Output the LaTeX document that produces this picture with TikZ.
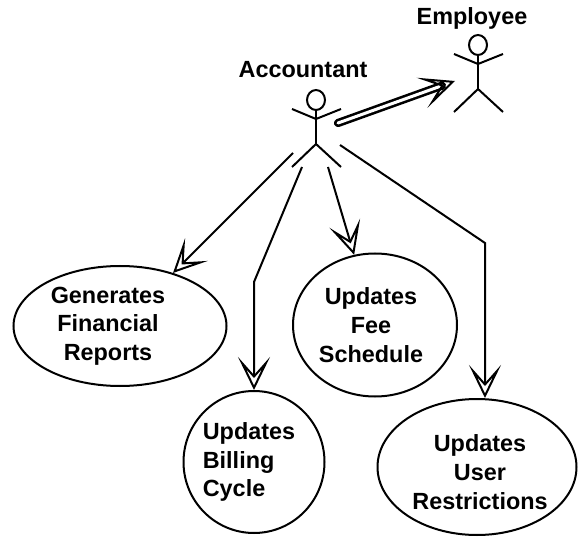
\documentclass[tikz,border=0pt]{standalone}
\usepackage{fontspec}
\setmainfont{Liberation Sans}
\usetikzlibrary{arrows.meta,positioning,shapes.geometric}
\tikzset{
    every picture/.style={
        x=1pt,y=-1pt,line width=2pt,
        >={Stealth[open,length=33pt,width=32pt,inset=18pt]}
    },
    usecase/.style={draw,ellipse,inner sep=0pt},
    casetext/.style={inner sep=0pt,align=center,
        font=\fontsize{23.4}{28.7}\selectfont\bfseries},
    actorname/.style={inner sep=0pt,font=\fontsize{23.4}{27}\selectfont\bfseries},
    actorhead/.style={draw,ellipse,minimum width=18pt,minimum height=20pt,inner sep=0pt},
    pics/actor/.style={code={
        \node[actorhead] (-head) at (0,0) {};
        \coordinate (-neck) at (0,19);
        \coordinate (-hip) at (0,44);
        \draw (-head) -- (-hip);
        \draw (-24,9) -- (-neck) -- (25,9);
        \draw (-24,67) -- (-hip) -- (25,67);
    }}
}
\begin{document}
\begin{tikzpicture}
    \useasboundingbox (0,0) rectangle (578,537);
    \pic (acc) at (316,100) {actor};
    \pic (emp) at (478,45) {actor};
    \node[actorname] (accname) [above=10pt of acc-head,xshift=-13pt] {Accountant};
    \node[actorname] (empname) [above=4pt of emp-head,xshift=-6pt] {Employee};

    \node[usecase,minimum width=213pt,minimum height=120pt] (report) at (120,326) {};
    \node[usecase,minimum width=164pt,minimum height=143pt] (fee) at (375,325) {};
    \node[usecase,minimum width=141pt,minimum height=142pt] (billing) at (254,462) {};
    \node[usecase,minimum width=199pt,minimum height=136pt] (user) at (477,467) {};

    \node[casetext,xshift=-12pt] (reporttext) at (report) {Generates\\Financial\\Reports};
    \node[casetext,xshift=-4pt] (feetext) at (fee) {Updates\\Fee\\Schedule};
    \node[casetext,align=left,xshift=-5pt] (billingtext) at (billing) {Updates\\Billing\\Cycle};
    \node[casetext,xshift=3pt,yshift=-5pt] (usertext) at (user) {Updates\\User\\Restrictions};

    \coordinate (reportstart) at (293,153);
    \coordinate (billingstart) at (302,167);
    \coordinate (billingbend) at (254,282);
    \coordinate (feestart) at (328,167);
    \coordinate (userstart) at (340,145);
    \coordinate (userbend) at (485,243);
    \coordinate (empstart) at (338,123);
    \coordinate (empend) at (455,81);

    \path[->] (reportstart) edge (report)
              (feestart) edge (fee);
    \draw[->] (billingstart) -- (billingbend) -- (billing);
    \draw[->] (userstart) -- (userbend) -- (userbend |- user.north);
    \draw[double,line width=2.6pt,double distance=3pt,line cap=round,
          -{Stealth[open,line width=2pt,length=35pt,width=32pt,inset=20pt]}] (empstart) -- (empend);
\end{tikzpicture}
\end{document}
